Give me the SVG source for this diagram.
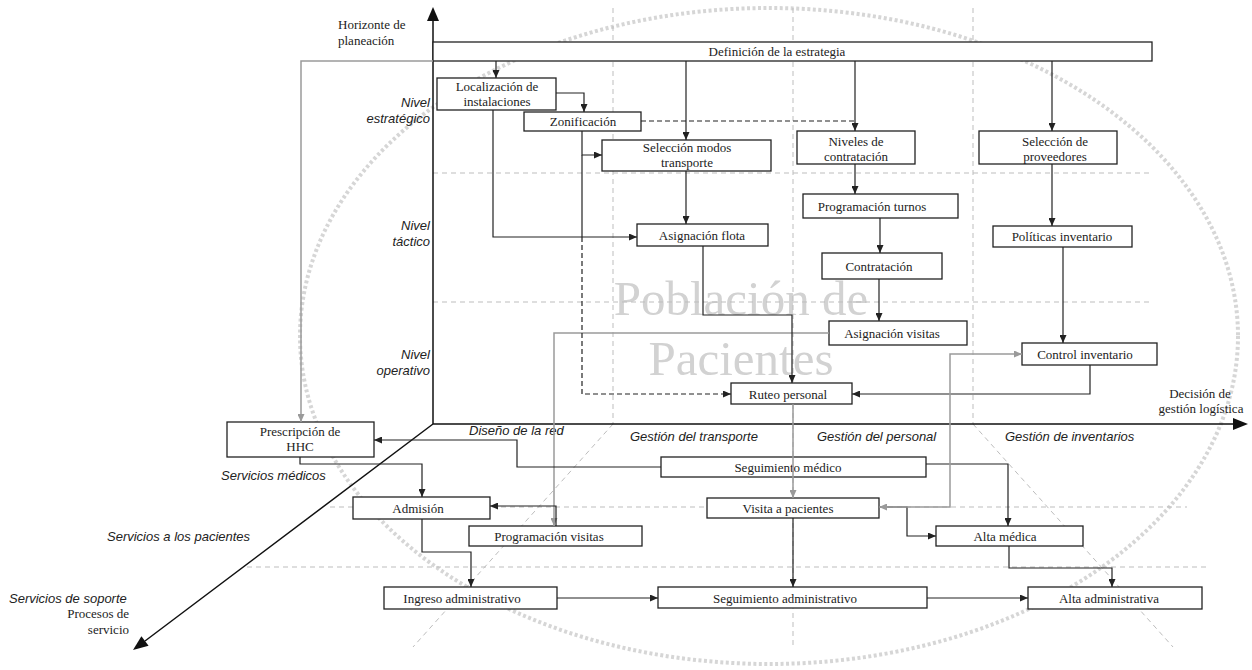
<svg xmlns="http://www.w3.org/2000/svg" width="1252" height="670" viewBox="0 0 1252 670">
<style>
.bx{fill:#fff;stroke:#222;stroke-width:1.3}
.t{font-family:"Liberation Serif","Times New Roman",serif;font-size:13px;fill:#222;text-anchor:middle}
.tl{font-family:"Liberation Serif","Times New Roman",serif;font-size:13px;fill:#222}
.it{font-family:"Liberation Sans",Arial,sans-serif;font-size:13px;font-style:italic;fill:#222}
.grid{fill:none;stroke:#bdbdbd;stroke-width:1;stroke-dasharray:5 4}
.c{fill:none;stroke:#222;stroke-width:1.2}
.cd{fill:none;stroke:#222;stroke-width:1.2;stroke-dasharray:5 3}
.cg{fill:none;stroke:#9a9a9a;stroke-width:1.5}
.ax{fill:none;stroke:#111;stroke-width:1.5}
</style>
<defs>
<marker id="ah" viewBox="0 0 8 7" refX="8" refY="3.5" markerWidth="8" markerHeight="7" markerUnits="userSpaceOnUse" orient="auto"><path d="M0,0 L8,3.5 L0,7 z" fill="#222"/></marker>
<marker id="ag" viewBox="0 0 8 7" refX="8" refY="3.5" markerWidth="8" markerHeight="7" markerUnits="userSpaceOnUse" orient="auto"><path d="M0,0 L8,3.5 L0,7 z" fill="#9a9a9a"/></marker>
<marker id="ags" viewBox="0 0 8 7" refX="0" refY="3.5" markerWidth="8" markerHeight="7" markerUnits="userSpaceOnUse" orient="auto"><path d="M8,0 L0,3.5 L8,7 z" fill="#9a9a9a"/></marker>
</defs>

<g id="background">
<ellipse cx="769" cy="336" rx="469" ry="328" fill="none" stroke="#d6d6d6" stroke-width="4" stroke-dasharray="3 2.5"/>
<text x="741" y="315" font-family="'Liberation Serif','Times New Roman',serif" font-size="49" fill="#d2d2d2" text-anchor="middle">Población de</text>
<text x="741" y="375" font-family="'Liberation Serif','Times New Roman',serif" font-size="49" fill="#d2d2d2" text-anchor="middle">Pacientes</text>
<path class="grid" d="M613,8 V424 M793,8 V424 M973,8 V424 M433,173 H1152 M433,302 H1150"/>
<path class="grid" d="M613,424 L413,647 M793,424 V647 M973,424 L1173,647 M330,507 H1187 M247,567 H1207"/>
</g>

<g id="axes">
<path class="ax" d="M433,21 V424 H1233 M433,424 L145,641"/>
<polygon points="433,7 427,21 439,21" fill="#111"/>
<polygon points="1248,424 1233,418 1233,430" fill="#111"/>
<polygon points="133,650 148.6,645.8 141.4,636.2" fill="#111"/>
<text class="tl" x="338" y="29">Horizonte de</text>
<text class="tl" x="338" y="45">planeación</text>
<text class="t" x="1200" y="398">Decisión de</text>
<text class="t" x="1201" y="413">gestión logística</text>
<text class="tl" x="129" y="618" text-anchor="end">Procesos de</text>
<text class="tl" x="129" y="634" text-anchor="end">servicio</text>
<text class="it" x="430" y="107" text-anchor="end">Nivel</text>
<text class="it" x="430" y="123" text-anchor="end">estratégico</text>
<text class="it" x="430" y="230" text-anchor="end">Nivel</text>
<text class="it" x="430" y="246" text-anchor="end">táctico</text>
<text class="it" x="430" y="359" text-anchor="end">Nivel</text>
<text class="it" x="430" y="375" text-anchor="end">operativo</text>
<text class="it" x="469" y="435">Diseño de la red</text>
<text class="it" x="630" y="441">Gestión del transporte</text>
<text class="it" x="817" y="441">Gestión del personal</text>
<text class="it" x="1005" y="441">Gestión de inventarios</text>
<text class="it" x="221" y="480">Servicios médicos</text>
<text class="it" x="107" y="541">Servicios a los pacientes</text>
<text class="it" x="9" y="603">Servicios de soporte</text>
</g>

<g id="n-definicion"><rect class="bx" x="433" y="42" width="719" height="19"/><text class="t" x="777" y="56">Definición de la estrategia</text></g>
<g id="n-localizacion"><rect class="bx" x="437" y="78" width="119" height="32"/><text class="t" x="497" y="91">Localización de</text><text class="t" x="497" y="106">instalaciones</text></g>
<g id="n-zonificacion"><rect class="bx" x="524" y="112" width="117" height="19"/><text class="t" x="583" y="126">Zonificación</text></g>
<g id="n-seleccion-modos"><rect class="bx" x="602" y="140" width="169" height="31"/><text class="t" x="687" y="152">Selección modos</text><text class="t" x="687" y="167">transporte</text></g>
<g id="n-asignacion-flota"><rect class="bx" x="637" y="224" width="131" height="22"/><text class="t" x="702" y="240">Asignación flota</text></g>
<g id="n-niveles"><rect class="bx" x="797" y="131" width="118" height="33"/><text class="t" x="856" y="146">Niveles de</text><text class="t" x="856" y="161">contratación</text></g>
<g id="n-proveedores"><rect class="bx" x="979" y="131" width="138" height="33"/><text class="t" x="1055" y="146">Selección de</text><text class="t" x="1055" y="161">proveedores</text></g>
<g id="n-prog-turnos"><rect class="bx" x="803" y="194" width="155" height="24"/><text class="t" x="872" y="211">Programación turnos</text></g>
<g id="n-contratacion"><rect class="bx" x="822" y="253" width="120" height="26"/><text class="t" x="879" y="271">Contratación</text></g>
<g id="n-asignacion-visitas"><rect class="bx" x="829" y="321" width="138" height="24"/><text class="t" x="892" y="338">Asignación visitas</text></g>
<g id="n-politicas"><rect class="bx" x="993" y="226" width="139" height="21"/><text class="t" x="1062" y="241">Políticas inventario</text></g>
<g id="n-control"><rect class="bx" x="1022" y="343" width="135" height="22"/><text class="t" x="1085" y="359">Control inventario</text></g>
<g id="n-ruteo"><rect class="bx" x="731" y="383" width="121" height="21"/><text class="t" x="788" y="399">Ruteo personal</text></g>
<g id="n-prescripcion"><rect class="bx" x="227" y="422" width="147" height="35"/><text class="t" x="300" y="436">Prescripción de</text><text class="t" x="300" y="451">HHC</text></g>
<g id="n-seg-medico"><rect class="bx" x="661" y="457" width="265" height="20"/><text class="t" x="788" y="472">Seguimiento médico</text></g>
<g id="n-admision"><rect class="bx" x="353" y="497" width="137" height="22"/><text class="t" x="418" y="513">Admisión</text></g>
<g id="n-visita"><rect class="bx" x="707" y="498" width="172" height="20"/><text class="t" x="788" y="513">Visita a pacientes</text></g>
<g id="n-prog-visitas"><rect class="bx" x="469" y="526" width="173" height="20"/><text class="t" x="549" y="541">Programación visitas</text></g>
<g id="n-alta-medica"><rect class="bx" x="936" y="526" width="147" height="20"/><text class="t" x="1005" y="541">Alta médica</text></g>
<g id="n-ingreso"><rect class="bx" x="384" y="587" width="173" height="22"/><text class="t" x="462" y="603">Ingreso administrativo</text></g>
<g id="n-seg-admin"><rect class="bx" x="658" y="587" width="269" height="21"/><text class="t" x="785" y="603">Seguimiento administrativo</text></g>
<g id="n-alta-admin"><rect class="bx" x="1028" y="587" width="174" height="22"/><text class="t" x="1109" y="603">Alta administrativa</text></g>

<g id="connectors">
<path class="cg" d="M433,61 H301 V422" marker-end="url(#ag)"/>
<path class="cg" d="M829,333 H554 V526" marker-end="url(#ag)"/>
<path class="cg" d="M793,404 V498" marker-end="url(#ag)"/>
<path class="c" d="M496,61 V78" marker-end="url(#ah)"/>
<path class="c" d="M556,93 H584 V112" marker-end="url(#ah)"/>
<path class="c" d="M686,61 V140" marker-end="url(#ah)"/>
<path class="c" d="M855,61 V131" marker-end="url(#ah)"/>
<path class="c" d="M1052,61 V131" marker-end="url(#ah)"/>
<path class="cd" d="M641,121 H855"/>
<path class="c" d="M582,131 V155 H602" marker-end="url(#ah)"/>
<path class="c" d="M582,155 V237"/>
<path class="cd" d="M582,237 V394 H731" marker-end="url(#ah)"/>
<path class="c" d="M493,110 V237 H637" marker-end="url(#ah)"/>
<path class="c" d="M686,171 V224" marker-end="url(#ah)"/>
<path class="c" d="M703,246 V315 H792 V383" marker-end="url(#ah)"/>
<path class="c" d="M855,164 V194" marker-end="url(#ah)"/>
<path class="c" d="M880,218 V253" marker-end="url(#ah)"/>
<path class="c" d="M879,279 V321" marker-end="url(#ah)"/>
<path class="c" d="M1052,164 V226" marker-end="url(#ah)"/>
<path class="c" d="M1063,247 V343" marker-end="url(#ah)"/>
<path class="c" d="M1090,365 V394 H852" marker-end="url(#ah)"/>
<path class="c" d="M661,467 H517 V440 H374" marker-end="url(#ah)"/>
<path class="c" d="M926,464 H1008 V526" marker-end="url(#ah)"/>
<path class="c" d="M300,457 V464 H422 V497" marker-end="url(#ah)"/>
<path class="c" d="M556,526 V506 H490" marker-end="url(#ah)"/>
<path class="c" d="M422,519 V552 H471 V587" marker-end="url(#ah)"/>
<path class="c" d="M557,598 H658" marker-end="url(#ah)"/>
<path class="c" d="M793,518 V587" marker-end="url(#ah)"/>
<path class="c" d="M879,507 H907 V536 H936" marker-end="url(#ah)"/>
<path class="c" d="M927,598 H1028" marker-end="url(#ah)"/>
<path class="c" d="M1009,546 V568 H1112 V587" marker-end="url(#ah)"/>
<path class="cg" d="M879,507 H950 V354 H1022" marker-start="url(#ags)" marker-end="url(#ag)"/>
</g>
</svg>
